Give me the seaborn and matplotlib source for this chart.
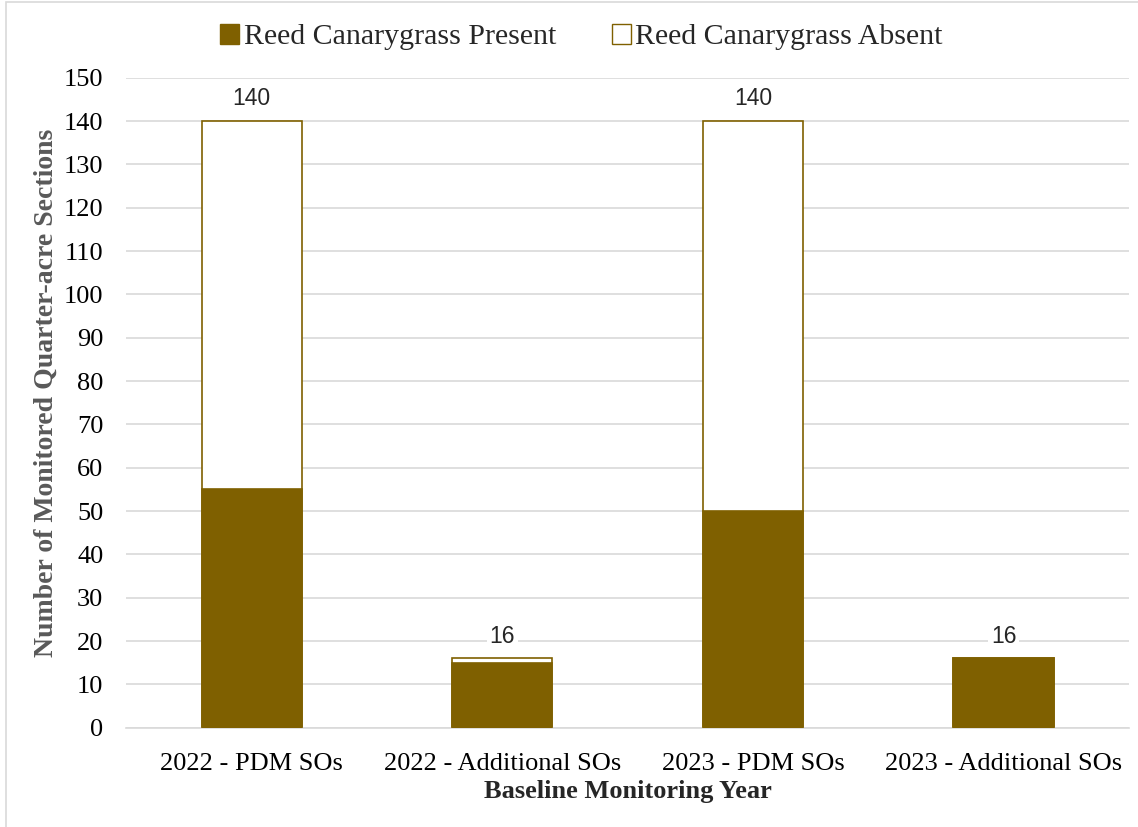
import matplotlib
matplotlib.use("Agg")
import matplotlib.pyplot as plt
import seaborn as sns
import pandas as pd
import numpy as np
from matplotlib.patches import Patch, Rectangle

# Datos
categorias = ["2022 - PDM SOs", "2022 - Additional SOs", "2023 - PDM SOs", "2023 - Additional SOs"]
presente = [55, 15, 50, 16]
ausente = [85, 1, 90, 0]
totales = [140, 16, 140, 16]

marron = "#7F6000"

sns.set_theme(style="white")
plt.rcParams["font.family"] = ["Liberation Serif", "DejaVu Serif"]

datos = pd.DataFrame({"categoria": categorias, "presente": presente, "ausente": ausente})
datos["total"] = datos["presente"] + datos["ausente"]

fig, ax = plt.subplots(figsize=(11.38, 8.27), dpi=100)
fig.subplots_adjust(left=0.111, right=0.992, top=0.906, bottom=0.12)

# Barra total (ausente) primero, luego presente encima
sns.barplot(data=datos, x="categoria", y="total", color="white", edgecolor=marron,
            linewidth=1.2, width=0.4, saturation=1, ax=ax, zorder=2)
sns.barplot(data=datos, x="categoria", y="presente", color=marron, edgecolor=marron,
            linewidth=1.2, width=0.4, saturation=1, ax=ax, zorder=3)

for i, t in enumerate(totales):
    ax.text(i, t + 2.5, str(t), ha="center", va="bottom", fontsize=16.5,
            family=["Liberation Sans", "DejaVu Sans"], zorder=4,
            bbox=dict(facecolor="white", edgecolor="none", pad=2))

ax.set_ylim(0, 150)
ax.set_yticks(np.arange(0, 151, 10))
ax.set_xlim(-0.5, 3.5)
ax.yaxis.grid(True, color="#d9d9d9", linewidth=1.2, zorder=0)
ax.set_axisbelow(True)
for lado in ["top", "right", "left"]:
    ax.spines[lado].set_visible(False)
ax.spines["bottom"].set_color("#d9d9d9")
ax.spines["bottom"].set_linewidth(1.2)
ax.tick_params(axis="both", labelsize=19, length=0, colors="black")
ax.tick_params(axis="y", pad=16.5)
ax.tick_params(axis="x", pad=18)

ax.set_xlabel("Baseline Monitoring Year", fontsize=19, weight="bold", labelpad=4)
ax.set_ylabel("Number of Monitored Quarter-acre Sections", fontsize=20, weight="bold",
              color="#595959")
ax.yaxis.set_label_coords(-0.067, 0.515)

manijas = [Patch(facecolor=marron, edgecolor=marron, label="Reed Canarygrass Present"),
           Patch(facecolor="white", edgecolor=marron, label="Reed Canarygrass Absent")]
fig.legend(handles=manijas, loc="center", bbox_to_anchor=(0.511, 0.955), ncol=2,
           frameon=False, fontsize=21.5, handlelength=0.65, handleheight=0.65,
           handletextpad=0.15, columnspacing=1.85)

# Marco gris de la figura
fig.patches.append(Rectangle((0.005, -0.01), 1.0, 1.008, transform=fig.transFigure,
                             fill=False, edgecolor="#d9d9d9", linewidth=1.2))

fig.savefig("out.png", dpi=100)
